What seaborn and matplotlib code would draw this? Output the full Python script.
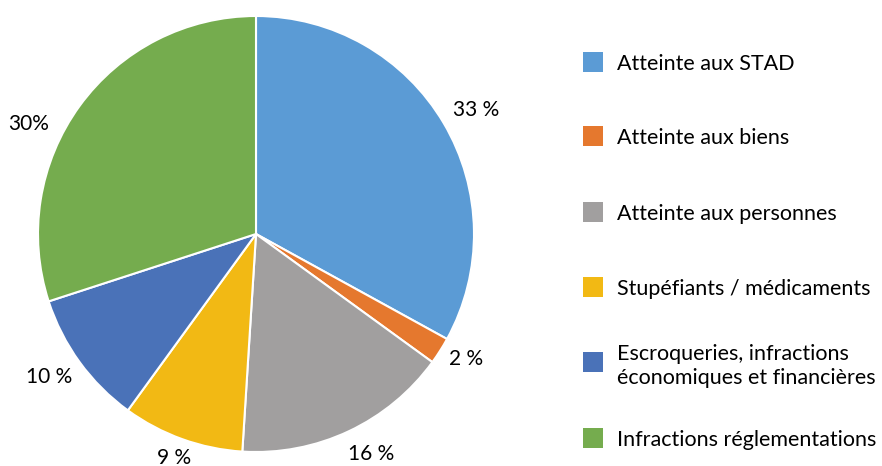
import matplotlib
matplotlib.use("Agg")
import numpy as np
import matplotlib.pyplot as plt
from matplotlib.patches import Rectangle
import seaborn as sns

# Data
categories = [
    "Atteinte aux STAD",
    "Atteinte aux biens",
    "Atteinte aux personnes",
    "Stupéfiants / médicaments",
    "Escroqueries, infractions\néconomiques et financières",
    "Infractions réglementations",
]
values = [33, 2, 16, 9, 10, 30]
value_labels = ["33 %", "2 %", "16 %", "9 %", "10 %", "30%"]
colors = ["#5B9BD5", "#E5782E", "#A19F9F", "#F2B914", "#4A72B8", "#75AC4E"]

# label placement (radius in pie units, angle shift in degrees from slice middle)
label_radius = [1.158, 1.12, 1.14, 1.094, 1.154, 1.161]
label_shift = [-1.2, 1.6, 2.4, -0.3, -1.4, 10.2]

# legend rows, pixels from the top of the figure
legend_rows = [62, 136, 212, 287, 362, 438]

sns.set_theme(style="white")
plt.rcParams["font.family"] = ["Lato", "DejaVu Sans"]

W, H = 882, 466
fig = plt.figure(figsize=(W / 100, H / 100), dpi=100)
# pie area: centre (256, 234) px, radius 218 px
ax = fig.add_axes([38 / W, 14 / H, 436 / W, 436 / H])

wedges, texts = ax.pie(
    values,
    labels=value_labels,
    colors=colors,
    startangle=90,
    counterclock=False,
    wedgeprops=dict(edgecolor="white", linewidth=1.5),
    textprops=dict(fontsize=15, color="black"),
)
for w, t, r, s in zip(wedges, texts, label_radius, label_shift):
    ang = np.deg2rad((w.theta1 + w.theta2) / 2 + s)
    t.set_position((r * np.cos(ang), r * np.sin(ang)))
    t.set_ha("center")
    t.set_va("center")
    t.set_clip_on(False)
ax.set_xlim(-1, 1)
ax.set_ylim(-1, 1)
ax.set_aspect("equal")
ax.axis("off")

# legend on the right: square swatch + label, one row per category
for name, col, row in zip(categories, colors, legend_rows):
    fig.add_artist(Rectangle((583 / W, 1 - (row + 10) / H), 20 / W, 20 / H,
                             transform=fig.transFigure, facecolor=col,
                             edgecolor="none"))
    fig.text(617 / W, 1 - row / H, name, fontsize=15.5, color="black",
             ha="left", va="center_baseline", linespacing=1.25)

fig.savefig("out.png", dpi=100)
